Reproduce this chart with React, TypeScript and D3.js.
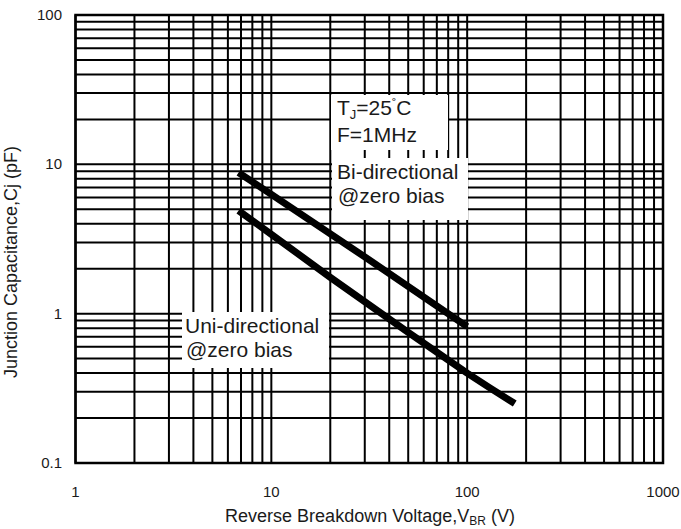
import React from "react";
import * as d3 from "d3";

const xTickValues = [1, 10, 100, 1000];
const xTickLabels = ["1", "10", "100", "1000"];
const yTickValues = [0.1, 1, 10, 100];
const yTickLabels = ["0.1", "1", "10", "100"];

const biVoltage = [6.8, 10, 30, 100];
const biCap = [8.8, 6.3, 2.4, 0.82];

const uniVoltage = [6.8, 10, 20, 50, 100, 130, 175];
const uniCap = [4.9, 3.4, 1.75, 0.75, 0.4, 0.32, 0.25];

const W = 681;
const H = 529;
const left = 75.5;
const right = 663;
const top = 15;
const bottom = 463;

function minorTicks(lo: number, hi: number): number[] {
  const out: number[] = [];
  for (let d = lo; d < hi; d *= 10) {
    for (let k = 1; k <= 9; k++) out.push(d * k);
  }
  out.push(hi);
  return out;
}

export default function App() {
  const x = d3.scaleLog().domain([1, 1000]).range([left, right]);
  const y = d3.scaleLog().domain([0.1, 100]).range([bottom, top]);

  const vLines = minorTicks(1, 1000);
  const hLines = minorTicks(0.1, 100);

  const line = d3
    .line<[number, number]>()
    .x((d) => x(d[0]))
    .y((d) => y(d[1]));

  const biData: [number, number][] = biVoltage.map((v, i) => [v, biCap[i]]);
  const uniData: [number, number][] = uniVoltage.map((v, i) => [v, uniCap[i]]);

  const font = "Liberation Sans, Arial, sans-serif";
  const txt = "#1a1a1a";

  return (
    <svg
      width={W}
      height={H}
      style={{ position: "absolute", left: 0, top: 0, background: "#fff" }}
      fontFamily={font}
    >
      <rect x={0} y={0} width={W} height={H} fill="#fff" />
      {vLines.map((v, i) => (
        <line
          key={"v" + i}
          x1={x(v)}
          x2={x(v)}
          y1={top}
          y2={bottom}
          stroke="#000"
          strokeWidth={2}
        />
      ))}
      {hLines.map((v, i) => (
        <line
          key={"h" + i}
          x1={left}
          x2={right}
          y1={y(v)}
          y2={y(v)}
          stroke="#000"
          strokeWidth={2}
        />
      ))}
      <rect
        x={left}
        y={top}
        width={right - left}
        height={bottom - top}
        fill="none"
        stroke="#000"
        strokeWidth={2.5}
      />

      {/* annotation boxes */}
      <rect x={331} y={95} width={117} height={55} fill="#fff" />
      <rect x={332} y={158} width={136} height={62} fill="#fff" />
      <rect x={182} y={312} width={147} height={56} fill="#fff" />

      <path
        d={line(biData) || ""}
        fill="none"
        stroke="#000"
        strokeWidth={7}
        strokeLinecap="butt"
      />
      <path
        d={line(uniData) || ""}
        fill="none"
        stroke="#000"
        strokeWidth={7}
        strokeLinecap="butt"
        strokeLinejoin="round"
      />

      <g fill={txt} fontSize={21}>
        <text x={337} y={115}>
          T<tspan fontSize={13} dy={4}>J</tspan>
          <tspan dy={-4}>=25</tspan>
          <tspan fontSize={13} dy={-7}>˚</tspan>
          <tspan dy={7}>C</tspan>
        </text>
        <text x={337} y={142}>F=1MHz</text>
        <text x={337} y={179}>Bi-directional</text>
        <text x={338} y={203}>@zero bias</text>
        <text x={185} y={333}>Uni-directional</text>
        <text x={186} y={357}>@zero bias</text>
      </g>

      <g fill={txt} fontSize={15}>
        {yTickValues.map((v, i) => (
          <text key={"yt" + i} x={62} y={y(v) + 5} textAnchor="end">
            {yTickLabels[i]}
          </text>
        ))}
        {xTickValues.map((v, i) => (
          <text key={"xt" + i} x={x(v)} y={497} textAnchor="middle">
            {xTickLabels[i]}
          </text>
        ))}
      </g>

      <text x={370} y={522} textAnchor="middle" fill={txt} fontSize={18}>
        Reverse Breakdown Voltage,V<tspan fontSize={12} dy={3}>BR</tspan>
        <tspan dy={-3}> (V)</tspan>
      </text>
      <text
        transform={`translate(17, ${262}) rotate(-90)`}
        textAnchor="middle"
        fill={txt}
        fontSize={18}
      >
        Junction Capacitance,Cj (pF)
      </text>
    </svg>
  );
}
